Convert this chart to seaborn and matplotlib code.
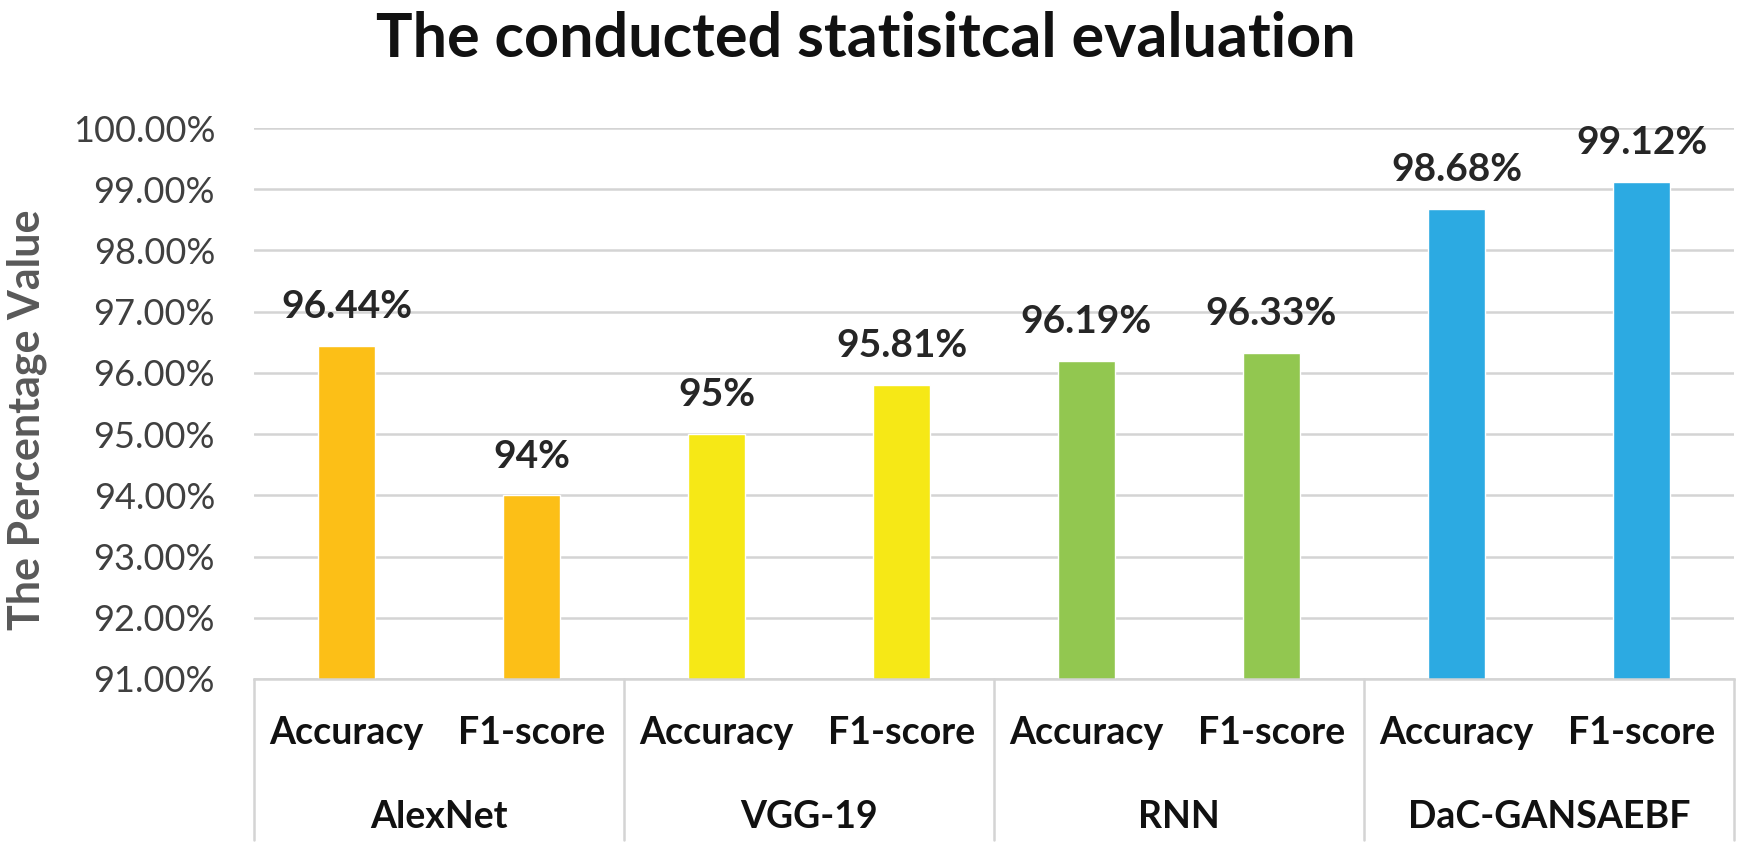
import matplotlib
matplotlib.use("Agg")
import matplotlib.pyplot as plt
import seaborn as sns
import pandas as pd
from matplotlib.transforms import blended_transform_factory

groups = ["AlexNet", "AlexNet", "VGG-19", "VGG-19", "RNN", "RNN", "DaC-GANSAEBF", "DaC-GANSAEBF"]
metrics = ["Accuracy", "F1-score"] * 4
values = [96.44, 94.00, 95.00, 95.81, 96.19, 96.33, 98.68, 99.12]
value_labels = ["96.44%", "94%", "95%", "95.81%", "96.19%", "96.33%", "98.68%", "99.12%"]
group_names = ["AlexNet", "VGG-19", "RNN", "DaC-GANSAEBF"]
group_colors = ["#FCBF17", "#F6E816", "#92C750", "#2CAAE2"]
yticks = [91, 92, 93, 94, 95, 96, 97, 98, 99, 100]

sns.set_theme(style="white")
plt.rcParams['font.family'] = ['Lato', 'DejaVu Sans']

df = pd.DataFrame({"group": groups, "metric": metrics, "value": values})
df["pos"] = [f"{g}|{m}" for g, m in zip(groups, metrics)]

W, H = 1756, 856
fig = plt.figure(figsize=(W/100, H/100), dpi=100)
ax = fig.add_axes([254/W, 1-679/H, (1734-254)/W, (679-128)/H])

sns.barplot(data=df, x="pos", y="value", hue="group", palette=group_colors,
            hue_order=group_names, dodge=False, width=0.31, legend=False, ax=ax,
            order=list(df["pos"]), saturation=1)

ax.set_ylim(91, 100)
ax.set_xlim(-0.5, 7.5)
ax.set_yticks(yticks)
ax.set_yticklabels([f"{t:.2f}%" for t in yticks], fontsize=26, color="#404040")
ax.tick_params(axis="y", length=0, pad=28)
ax.yaxis.grid(True, color="#D4D4D4", linewidth=1.8)
ax.set_axisbelow(True)
for s in ["top", "right", "left"]:
    ax.spines[s].set_visible(False)
ax.spines["bottom"].set_color("#D4D4D4")
ax.spines["bottom"].set_linewidth(1.8)
ax.set_xticks([])
ax.set_xlabel("")
ax.set_ylabel("")
fig.text(27/W, 1-420/H, "The Percentage Value", rotation=90, ha="center", va="center",
         fontsize=31, fontweight="bold", color="#595959")

for p, lab in zip(ax.patches, value_labels):
    ax.annotate(lab, (p.get_x() + p.get_width()/2, p.get_height()),
                xytext=(0, 20), textcoords="offset points",
                ha="center", va="baseline", fontsize=28, fontweight="bold", color="#262626")

trans = blended_transform_factory(ax.transData, ax.transAxes)
for xb in [-0.5, 1.5, 3.5, 5.5, 7.5]:
    ax.plot([xb, xb], [0, -0.292], transform=trans, color="#D4D4D4", lw=1.8, clip_on=False)
for i, m in enumerate(metrics):
    ax.text(i, -0.098, m, transform=trans, ha="center", va="center",
            fontsize=27, fontweight="bold", color="#111111")
for j, g in enumerate(group_names):
    ax.text(2*j + 0.5, -0.25, g, transform=trans, ha="center", va="center",
            fontsize=27, fontweight="bold", color="#111111")

fig.text(866/W, 1-57/H, "The conducted statisitcal evaluation", ha="center", va="baseline",
         fontsize=44, fontweight="bold", color="#111111")

fig.savefig("out.png", dpi=100, facecolor="white")
